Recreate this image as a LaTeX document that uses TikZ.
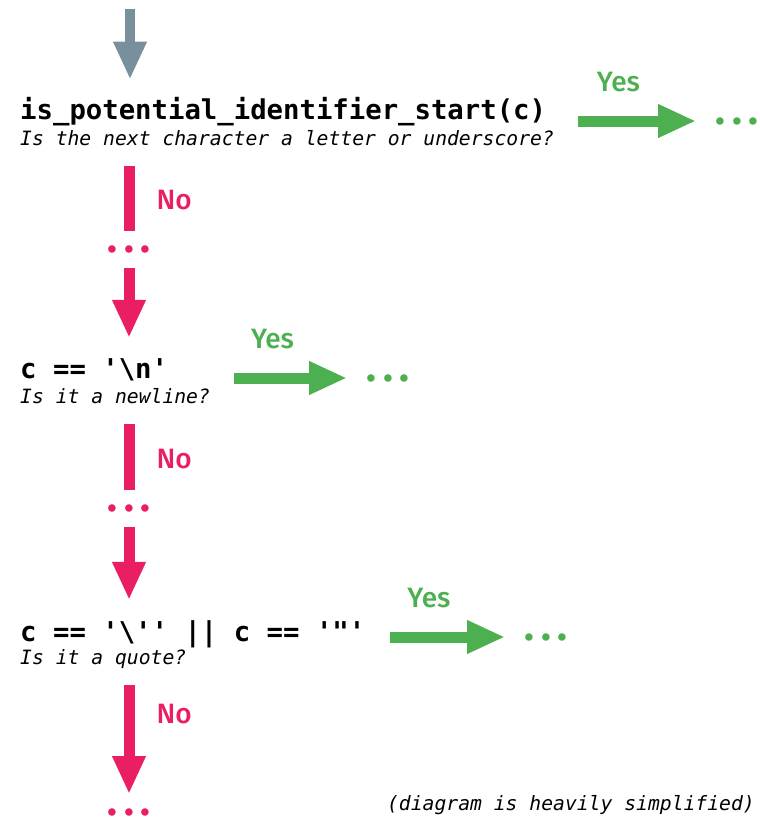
\documentclass[tikz,border=0pt]{standalone}
\usepackage{fontspec}
\setmonofont{DejaVu Sans Mono}
\setsansfont{Fira Sans}
\newfontfamily\answerfont{Fira Sans Medium}
\usetikzlibrary{arrows.meta}
\definecolor{nopink}{HTML}{E91E63}
\definecolor{yesgreen}{HTML}{4CAF50}
\definecolor{slate}{HTML}{78909C}
\newcommand\codesize{\fontsize{27.3}{32}\selectfont}
\newcommand\hintsize{\fontsize{19.7}{24}\selectfont}
\newcommand\answersize{\fontsize{28}{30}\selectfont}
\newcommand\moredots{.\kern7pt.\kern7pt.}

\begin{document}
\begin{tikzpicture}[x=1pt,y=-1pt,
  code/.style={anchor=base west,inner sep=0pt,font=\ttfamily\bfseries\codesize},
  hint/.style={anchor=base west,inner sep=0pt,font=\ttfamily\itshape\hintsize},
  dots/.style={inner sep=0pt,font=\sffamily\bfseries\fontsize{41}{41}\selectfont},
  answer/.style={inner sep=0pt,font=\answerfont\answersize},
  bigtip/.style={-{Triangle[width=31pt,length=38pt]}},
  entry/.style={slate,line width=10pt,bigtip,shorten >=17pt},
  nostem/.style={nopink,line width=11pt,shorten <=21pt,shorten >=14pt},
  noarrow/.style={nopink,line width=11pt,bigtip,shorten <=15pt,shorten >=20pt},
  yesarrow/.style={yesgreen,line width=11pt,bigtip,shorten <=24pt,shorten >=19pt}]%
\useasboundingbox (0,0) rectangle (760,822); %%
% questions, one per row
\coordinate (entry) at (130,9); %%
\node[code] (q1) at (20,119) {is\_potential\_identifier\_start(c)}; %%
\node[hint] (h1) at (20,145) {Is the next character a letter or underscore?}; %%
\node[code] (q2) at (20,378) {c == '\textbackslash n'}; %%
\node[hint] (h2) at (20,403) {Is it a newline?}; %%
\node[code] (q3) at (20,641) {c == '\textbackslash'' || c == '"'}; %%
\node[hint] (h3) at (20,664) {Is it a quote?}; %%
% where the answers lead
\begin{scope}[yesgreen]
\node[dots] (y1) at (737,121) {\moredots}; %%
\node[dots] (y2) at (388,378) {\moredots}; %%
\node[dots] (y3) at (546,637) {\moredots}; %%
\end{scope}
\begin{scope}[nopink]
\node[dots] (n1) at (129,249) {\moredots}; %%
\node[dots] (n2) at (129,508) {\moredots}; %%
\node[dots] (n3) at (129,812) {\moredots}; %%
\end{scope}
\node[hint,anchor=base east] (note) at (755,810) {(diagram is heavily simplified)}; %%
% arrows
\draw[entry] (entry) -- (entry |- q1.north); %%
\draw[yesarrow] (y1 -| h1.east) -- node[answer,above=24pt,pos=.4] {Yes} (y1.west); %%
\draw[nostem] (n1 |- h1.base) -- node[answer,right=22pt,pos=.55] {No} (n1.north); %%
\draw[noarrow] (n1.south) -- (n1 |- q2.north); %%
\draw[yesarrow] (y2 -| h2.east) -- node[answer,above=24pt,pos=.4] {Yes} (y2.west); %%
\draw[nostem] (n2 |- h2.base) -- node[answer,right=22pt,pos=.55] {No} (n2.north); %%
\draw[noarrow] (n2.south) -- (n2 |- q3.north); %%
\draw[yesarrow] (y3 -| q3.east) -- node[answer,above=24pt,pos=.4] {Yes} (y3.west); %%
\draw[nostem,bigtip] (n3 |- h3.base) -- node[answer,right=22pt,pos=.35] {No} (n3.north); %%
\end{tikzpicture}
\end{document}
